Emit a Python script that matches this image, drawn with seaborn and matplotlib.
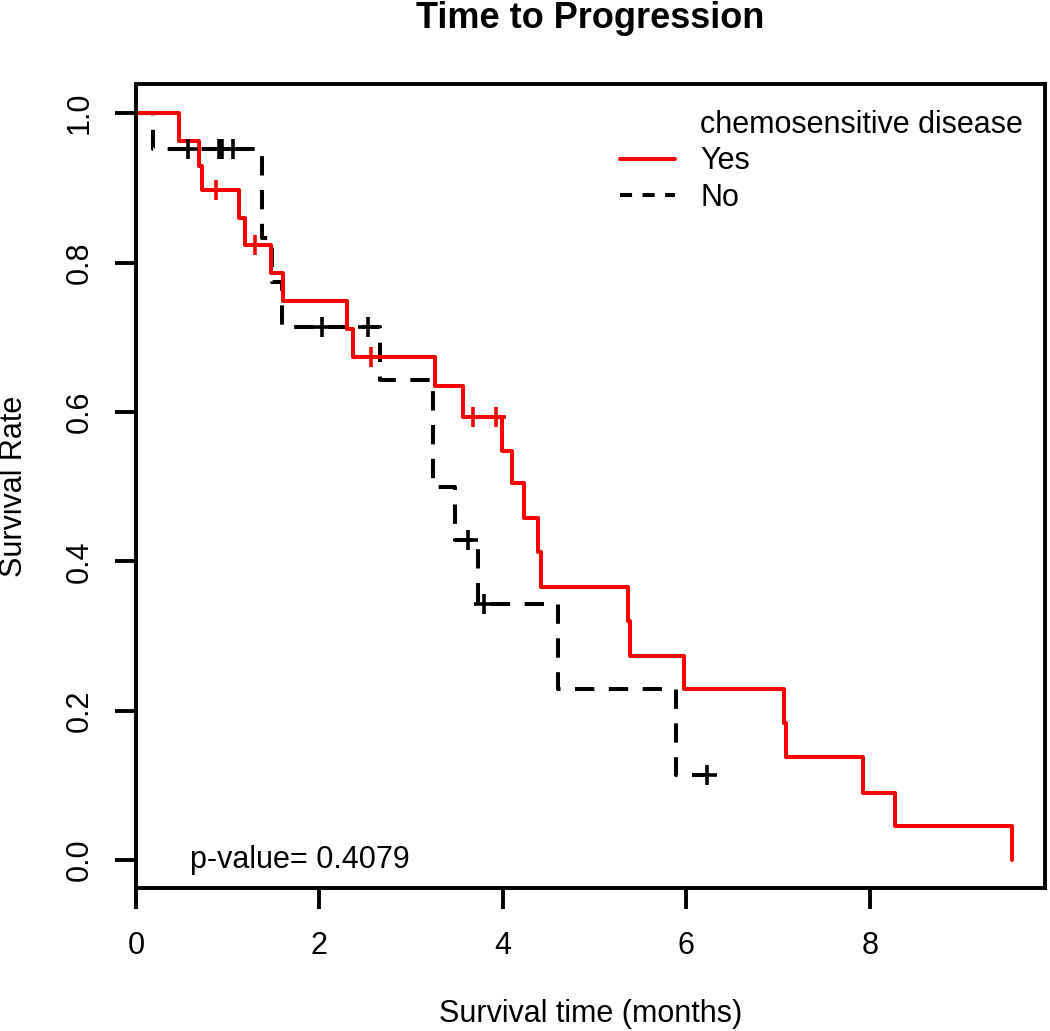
import pandas as pd
import matplotlib
matplotlib.use("Agg")
import matplotlib.pyplot as plt
import seaborn as sns
from matplotlib.lines import Line2D

sns.set_style("ticks")
plt.rcParams['font.family'] = ['Liberation Sans', 'DejaVu Sans']
plt.rcParams.update({'text.color': 'black', 'axes.labelcolor': 'black',
                     'xtick.color': 'black', 'ytick.color': 'black'})

# Kaplan-Meier step points (time in months, survival)
yes_time = [0, 0.47, 0.69, 0.72, 1.12, 1.19, 1.47, 1.60, 2.30, 2.37, 3.26, 3.56,
            3.99, 4.10, 4.23, 4.38, 4.42, 5.36, 5.39, 5.97, 7.06, 7.09, 7.93, 8.27, 9.55]
yes_surv = [1.0, 0.963, 0.929, 0.897, 0.859, 0.823, 0.786, 0.748, 0.711, 0.673, 0.635, 0.593,
            0.548, 0.505, 0.458, 0.412, 0.366, 0.320, 0.273, 0.229, 0.183, 0.138, 0.090, 0.046, 0.0]
no_time = [0, 0.19, 1.37, 1.48, 1.59, 2.66, 3.24, 3.48, 3.73, 4.60, 5.89, 6.23]
no_surv = [1.0, 0.952, 0.833, 0.774, 0.714, 0.643, 0.500, 0.429, 0.343, 0.229, 0.114, 0.114]

# censored observations
yes_cens_time = [0.87, 1.30, 2.56, 3.67, 3.93]
yes_cens_surv = [0.897, 0.823, 0.673, 0.593, 0.593]
no_cens_time = [0.57, 0.90, 0.94, 1.06, 2.03, 2.53, 3.62, 3.79, 6.23]
no_cens_surv = [0.952, 0.952, 0.952, 0.952, 0.714, 0.714, 0.429, 0.343, 0.114]

x_ticks = [0, 2, 4, 6, 8]
y_ticks = [0.0, 0.2, 0.4, 0.6, 0.8, 1.0]
p_value = 0.4079

df_yes = pd.DataFrame({'time': yes_time, 'surv': yes_surv})
df_no = pd.DataFrame({'time': no_time, 'surv': no_surv})

fig = plt.figure(figsize=(10.5, 10.31), dpi=100)
ax = fig.add_axes([0.1295, 0.1387, 0.8657, 0.7798])

lw = 2.9
fs = 22
sns.lineplot(data=df_no, x='time', y='surv', ax=ax, color='black', lw=lw,
             estimator=None, sort=False, drawstyle='steps-post',
             linestyle=(0, (4.8, 3.6)))
sns.lineplot(data=df_yes, x='time', y='surv', ax=ax, color='red', lw=lw,
             estimator=None, sort=False, drawstyle='steps-post')
sns.scatterplot(x=no_cens_time, y=no_cens_surv, ax=ax, marker='+', s=190,
                color='black', linewidth=2.6, zorder=3)
sns.scatterplot(x=yes_cens_time, y=yes_cens_surv, ax=ax, marker='+', s=190,
                color='red', linewidth=2.6, zorder=4)

ax.set_xlim(0, 9.91)
ax.set_ylim(-0.0375, 1.039)
ax.set_xticks(x_ticks)
ax.set_xticklabels([str(t) for t in x_ticks])
ax.set_yticks(y_ticks)
ax.set_yticklabels([f"{t:.1f}" for t in y_ticks], rotation=90, va='center')

for sp in ax.spines.values():
    sp.set_visible(True)
    sp.set_linewidth(2.8)
    sp.set_color('black')
ax.tick_params(axis='both', direction='out', length=15, width=2.8,
               labelsize=fs, colors='black')
ax.tick_params(axis='x', pad=16)
ax.tick_params(axis='y', pad=15)

ax.set_xlabel('Survival time (months)', fontsize=fs, va='center')
ax.xaxis.set_label_coords(0.5, -0.157)
ax.set_ylabel('Survival Rate', fontsize=fs, va='center')
ax.yaxis.set_label_coords(-0.134, 0.5)
ax.set_title('Time to Progression', fontsize=26, fontweight='bold',
             y=1.0595, va='baseline')

ax.text(0.59, 0.0, f'p-value= {p_value}', fontsize=fs, ha='left', va='center')

handles = [Line2D([], [], color='none'),
           Line2D([], [], color='red', lw=lw),
           Line2D([], [], color='black', lw=lw, linestyle=(0, (3.0, 2.6)))]
labels = ['chemosensitive disease', 'Yes', 'No']
ax.legend(handles, labels, loc='upper left', bbox_to_anchor=(0.59, 0.893),
          bbox_transform=fig.transFigure, frameon=False, fontsize=fs,
          handlelength=1.8, handletextpad=0.85, labelspacing=0.2, borderpad=0,
          borderaxespad=0)

fig.savefig('out.png', dpi=100)
